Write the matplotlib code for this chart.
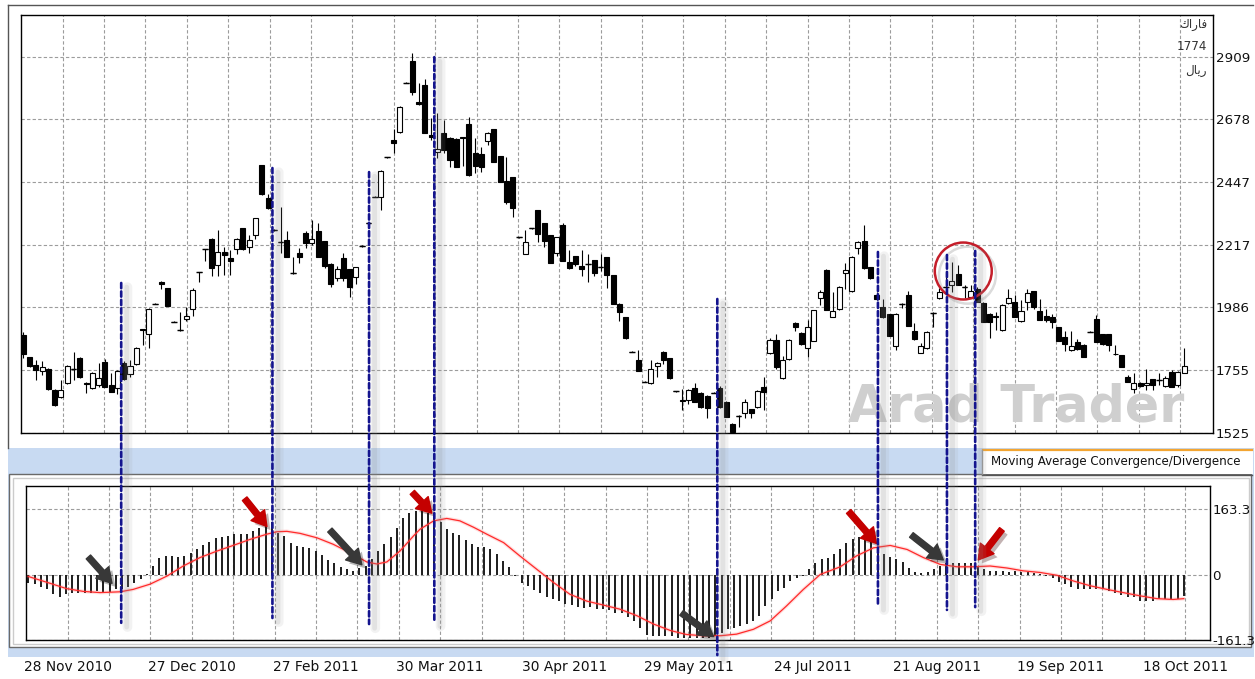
import numpy as np
import matplotlib
matplotlib.use("Agg")
import matplotlib.pyplot as plt
import matplotlib.patheffects as pe
from matplotlib.patches import ConnectionPatch, Rectangle
from matplotlib.lines import Line2D
from matplotlib.transforms import blended_transform_factory

# --- Daily candles, Rial ---
opens = [1884, 1802, 1774, 1753, 1759, 1682, 1658, 1709, 1760, 1801,
         1709, 1688, 1701, 1786, 1701, 1688, 1783, 1740, 1777, 1907,
         1887, 1999, 2081, 2056, 1934, 1903, 1942, 1981, 2115, 2200,
         2237, 2142, 2189, 2167, 2201, 2277, 2210, 2252, 2509, 2387,
         2271, 2228, 2234, 2111, 2185, 2259, 2224, 2268, 2230, 2146,
         2093, 2167, 2126, 2097, 2212, 2298, 2393, 2393, 2539, 2602,
         2631, 2813, 2891, 2743, 2804, 2620, 2559, 2627, 2610, 2607,
         2612, 2660, 2555, 2549, 2599, 2641, 2543, 2452, 2465, 2244,
         2183, 2277, 2344, 2295, 2252, 2187, 2289, 2154, 2175, 2138,
         2146, 2160, 2136, 2170, 2105, 1999, 1950, 1823, 1793, 1713,
         1707, 1772, 1823, 1799, 1678, 1645, 1645, 1691, 1672, 1660,
         1672, 1688, 1639, 1558, 1588, 1596, 1612, 1619, 1694, 1819,
         1866, 1725, 1795, 1930, 1891, 1836, 1864, 2020, 2124, 1952,
         1979, 2114, 2046, 2203, 2230, 2134, 2032, 1989, 1961, 1844,
         1999, 2032, 1900, 1820, 1836, 1967, 2020, 2060, 2069, 2108,
         2060, 2023, 2053, 2003, 1962, 1955, 1903, 2003, 2007, 1936,
         2007, 2046, 1974, 1955, 1952, 1913, 1878, 1829, 1860, 1848,
         1897, 1943, 1888, 1888, 1816, 1810, 1731, 1685, 1709, 1699,
         1721, 1718, 1697, 1749, 1700, 1746]
highs = [1897, 1805, 1793, 1790, 1762, 1684, 1719, 1773, 1823, 1803,
         1710, 1750, 1781, 1798, 1746, 1757, 1787, 1793, 1840, 1908,
         1983, 2002, 2083, 2058, 1936, 1970, 1986, 2058, 2117, 2202,
         2240, 2271, 2210, 2197, 2242, 2280, 2251, 2316, 2511, 2402,
         2273, 2357, 2268, 2173, 2203, 2266, 2308, 2298, 2232, 2148,
         2140, 2185, 2128, 2136, 2214, 2300, 2395, 2490, 2541, 2641,
         2727, 2815, 2923, 2813, 2827, 2682, 2702, 2675, 2612, 2609,
         2613, 2685, 2608, 2577, 2631, 2644, 2545, 2541, 2467, 2246,
         2270, 2279, 2346, 2297, 2254, 2246, 2296, 2197, 2177, 2197,
         2183, 2162, 2183, 2172, 2107, 2001, 1952, 1825, 1829, 1715,
         1793, 1786, 1825, 1801, 1680, 1685, 1685, 1708, 1674, 1662,
         1674, 1697, 1641, 1560, 1590, 1648, 1614, 1682, 1731, 1872,
         1887, 1806, 1870, 1932, 1895, 1940, 1978, 2050, 2126, 2044,
         2064, 2149, 2175, 2230, 2289, 2136, 2044, 2018, 1963, 1964,
         2001, 2047, 1930, 1856, 1899, 1969, 2058, 2117, 2154, 2142,
         2069, 2069, 2062, 2005, 1964, 1969, 1997, 2055, 2032, 2013,
         2055, 2048, 2017, 1981, 1962, 1915, 1900, 1900, 1871, 1850,
         1899, 1958, 1890, 1890, 1849, 1812, 1737, 1744, 1711, 1758,
         1723, 1744, 1733, 1756, 1751, 1836]
lows = [1799, 1768, 1719, 1737, 1683, 1622, 1653, 1706, 1719, 1728,
        1672, 1686, 1694, 1692, 1675, 1668, 1720, 1729, 1775, 1848,
        1836, 1997, 2053, 1990, 1932, 1901, 1937, 1955, 2078, 2158,
        2102, 2102, 2105, 2105, 2183, 2198, 2188, 2238, 2401, 2347,
        2269, 2185, 2170, 2109, 2148, 2204, 2216, 2171, 2130, 2061,
        2085, 2082, 2025, 2072, 2210, 2296, 2391, 2344, 2537, 2553,
        2629, 2811, 2766, 2731, 2627, 2602, 2535, 2555, 2501, 2502,
        2506, 2471, 2479, 2483, 2584, 2520, 2447, 2366, 2318, 2242,
        2181, 2275, 2228, 2209, 2148, 2177, 2156, 2126, 2139, 2103,
        2081, 2103, 2121, 2059, 1997, 1935, 1870, 1821, 1751, 1711,
        1705, 1731, 1777, 1723, 1676, 1608, 1632, 1637, 1616, 1578,
        1670, 1616, 1582, 1518, 1547, 1578, 1578, 1617, 1609, 1813,
        1760, 1723, 1793, 1900, 1848, 1805, 1862, 1995, 1975, 1950,
        1977, 2055, 2044, 2183, 2128, 2091, 2014, 1948, 1879, 1831,
        1985, 1916, 1867, 1818, 1834, 1915, 2018, 2044, 2044, 2067,
        2022, 2021, 2005, 1931, 1872, 1903, 1901, 2000, 1950, 1934,
        1977, 1981, 1938, 1933, 1911, 1862, 1826, 1826, 1830, 1803,
        1895, 1858, 1849, 1826, 1812, 1766, 1711, 1672, 1693, 1683,
        1683, 1700, 1694, 1692, 1694, 1744]
closes = [1815, 1770, 1756, 1768, 1685, 1627, 1682, 1770, 1760, 1731,
          1705, 1746, 1727, 1694, 1676, 1752, 1724, 1772, 1838, 1904,
          1980, 1999, 2072, 1992, 1934, 1903, 1954, 2050, 2115, 2200,
          2132, 2189, 2179, 2157, 2239, 2201, 2234, 2314, 2403, 2353,
          2271, 2228, 2173, 2111, 2173, 2222, 2237, 2173, 2138, 2072,
          2126, 2093, 2062, 2134, 2212, 2298, 2393, 2488, 2539, 2590,
          2724, 2813, 2777, 2733, 2629, 2612, 2570, 2565, 2528, 2504,
          2608, 2473, 2506, 2504, 2629, 2522, 2449, 2375, 2351, 2244,
          2226, 2277, 2256, 2231, 2150, 2244, 2158, 2130, 2146, 2128,
          2146, 2111, 2136, 2105, 1999, 1968, 1872, 1823, 1753, 1713,
          1758, 1781, 1793, 1725, 1678, 1643, 1683, 1639, 1618, 1615,
          1672, 1618, 1584, 1527, 1588, 1639, 1596, 1680, 1676, 1866,
          1768, 1793, 1866, 1913, 1850, 1913, 1976, 2044, 1977, 1973,
          2062, 2124, 2173, 2228, 2130, 2093, 2016, 1950, 1881, 1962,
          1999, 1918, 1869, 1844, 1897, 1967, 2044, 2060, 2083, 2069,
          2060, 2046, 2007, 1933, 1933, 1950, 1995, 2019, 1952, 1974,
          2040, 1989, 1940, 1940, 1933, 1864, 1851, 1844, 1832, 1805,
          1897, 1860, 1851, 1848, 1814, 1768, 1713, 1709, 1697, 1709,
          1700, 1718, 1725, 1694, 1749, 1771]

# --- MACD histogram and its signal line ---
macd_hist = [-18, -22, -28, -35, -47, -53, -47, -45, -43, -45,
             -45, -39, -43, -41, -35, -35, -28, -18, -10, 2,
             23, 42, 48, 48, 46, 48, 55, 64, 74, 83,
             92, 95, 98, 102, 102, 103, 110, 118, 126, 131,
             106, 98, 81, 73, 71, 67, 60, 50, 38, 30,
             21, 15, 11, 17, 23, 41, 60, 77, 95, 118,
             143, 155, 159, 159, 155, 147, 131, 116, 104, 100,
             87, 77, 70, 71, 64, 52, 36, 21, -2, -18,
             -26, -36, -45, -55, -60, -64, -72, -74, -78, -80,
             -78, -83, -83, -86, -93, -94, -103, -113, -130, -148,
             -150, -150, -150, -150, -155, -155, -155, -155, -155, -155,
             -150, -142, -134, -130, -126, -122, -113, -101, -76, -60,
             -39, -31, -14, -6, -2, 15, 31, 40, 44, 52,
             64, 79, 91, 95, 93, 89, 71, 52, 46, 41,
             33, 19, 8, 5, 8, 15, 23, 30, 30, 30,
             31, 30, 23, 15, 11, 11, 11, 8, 11, 8,
             8, 5, 2, -1, -6, -17, -22, -28, -33, -35,
             -33, -35, -35, -39, -43, -50, -55, -55, -64, -64,
             -64, -60, -60, -60, -58, -51]
signal_pos = [0, 3.5, 6.1, 8.8, 11.5, 14.7, 16.8, 19.5, 22.2, 24.8,
              27.5, 30.2, 32.8, 35.5, 38.2, 39.8, 41.4, 43.5, 46.2, 48.8,
              51.5, 54.2, 55.8, 57.4, 59.5, 61.7, 62.7, 64.9, 67.0, 69.1,
              71.3, 73.4, 76.1, 78.7, 81.4, 84.1, 86.7, 89.4, 92.1, 94.7,
              97.4, 100.1, 102.8, 105.4, 108.1, 110.8, 113.4, 116.1, 118.8, 121.4,
              124.1, 126.8, 130.0, 132.6, 135.3, 138.0, 140.7, 143.3, 146.0, 148.7,
              151.3, 154.0, 156.7, 159.3, 162.0, 164.7, 167.3, 170.0, 172.7, 175.3,
              178.0, 180.7, 183.3, 185.0]
signal_val = [-3, -20, -33, -40, -43, -41, -35, -22, -2, 23,
              44, 60, 74, 89, 102, 108, 109, 104, 93, 77,
              56, 33, 28, 33, 60, 98, 114, 135, 141, 135,
              119, 102, 81, 48, 15, -18, -47, -64, -74, -84,
              -100, -121, -137, -147, -150, -150, -146, -134, -113, -76,
              -35, 2, 21, 48, 68, 74, 64, 44, 27, 21,
              21, 23, 18, 11, 7, 0, -14, -26, -35, -43,
              -51, -58, -60, -58]

price_ticks = [1525, 1755.67, 1986.33, 2217, 2447.67, 2678.33, 2909]
price_labels = ["1525", "1755", "1986", "2217", "2447", "2678", "2909"]
macd_ticks = [163.3, 0, -161.3]
macd_labels = ["163.3", "0", "-161.3"]
date_labels = ["28 Nov 2010", "27 Dec 2010", "27 Feb 2011", "30 Mar 2011",
               "30 Apr 2011", "29 May 2011", "24 Jul 2011", "21 Aug 2011",
               "19 Sep 2011", "18 Oct 2011"]

# turning points: bar, price where the marker starts, MACD value where it ends
turn_pos = [15.6, 39.7, 55.1, 65.5, 110.6, 136.2, 147.2, 151.7]
turn_top = [2076, 2499, 2484, 2907, 2017, 2190, 2179, 2194]
turn_bottom = [-118, -106, -121, -116, -198, -76, -86, -79]

# arrows pointing at the signal line: tip (bar, value), tail offset in points
arrow_pos = [13.4, 38.2, 53.4, 64.6, 109.7, 135.8, 146.5, 152.1]
arrow_val = [-20, 121, 26, 154, -152, 79, 38, 38]
arrow_dx = [-17, -16, -23, -14, -23, -20, -23, 17]
arrow_dy = [19, 20, 25, 15, 17, 23, 18, 22]
arrow_colors = ["#383838", "#c40000", "#383838", "#c40000",
                "#383838", "#c40000", "#383838", "#c40000"]

W, H = 1255, 679


def fig_box(x0, y0, x1, y1):
    return [x0 / W, 1 - y1 / H, (x1 - x0) / W, (y1 - y0) / H]


fig = plt.figure(figsize=(W / 100, H / 100), dpi=100)
fig.patch.set_facecolor("white")

# --- window chrome round the two panes ---
deco = [
    Rectangle((8 / W, 1 - 657 / H), 1246 / W, 209 / H, facecolor="#c8daf2", edgecolor="none"),
    Rectangle((9 / W, 1 - 647 / H), 1242 / W, 173 / H, facecolor="white", edgecolor="#6a6a6a", lw=1),
    Rectangle((12.5 / W, 1 - 644 / H), 1236 / W, 166.5 / H, facecolor="none", edgecolor="#cccccc", lw=1),
    Rectangle((982 / W, 1 - 474 / H), 271 / W, 25 / H, facecolor="white", edgecolor="none"),
]
for r in deco:
    r.set_transform(fig.transFigure)
    r.set_zorder(-5)
    fig.add_artist(r)
for xs, ys, col, lw in [([8, 1253], [5, 5], "#555555", 1.0),
                        ([8, 8], [5, 448], "#555555", 1.0),
                        ([983, 1252], [449.5, 449.5], "#f3a531", 1.6),
                        ([982, 982], [450, 474], "#9a9a9a", 1.0),
                        ([982, 1252], [475, 475], "#555555", 1.0)]:
    fig.add_artist(Line2D([x / W for x in xs], [1 - y / H for y in ys],
                          transform=fig.transFigure, color=col, lw=lw, zorder=-4))
fig.text(991 / W, 1 - 461.5 / H, "Moving Average Convergence/Divergence",
         fontsize=8.6, va="center", ha="left", color="#111111")

grid_kw = dict(color="#9c9c9c", linestyle=(0, (3, 2)), lw=0.8)

# --- price pane ---
ax1 = fig.add_axes(fig_box(21, 15, 1213, 432.7))
idx = np.arange(len(opens))
o, h, l, c = (np.array(v, dtype=float) for v in (opens, highs, lows, closes))
ax1.vlines(idx, l, h, color="black", lw=0.8, zorder=2)
body_col = ["white" if cc > oo else "black" for oo, cc in zip(o, c)]
ax1.bar(idx, np.abs(c - o), bottom=np.minimum(o, c), width=0.8, color=body_col,
        edgecolor="black", linewidth=0.8, zorder=3)
flat = o == c
ax1.hlines(o[flat], idx[flat] - 0.45, idx[flat] + 0.45, color="black", lw=1.0, zorder=3)

ax1.set_xlim(-0.37, 189.6)
ax1.set_ylim(1525, 3062)
ax1.set_xticks(6.28 + 6.595 * np.arange(28))
ax1.set_xticklabels([])
ax1.set_yticks(price_ticks)
ax1.set_yticklabels(price_labels)
ax1.yaxis.tick_right()
ax1.tick_params(length=0, labelsize=9.6, pad=2, colors="#111111")
ax1.grid(True, **grid_kw)
ax1.set_axisbelow(True)
for s in ax1.spines.values():
    s.set_color("black")
    s.set_linewidth(1.0)

ax1.text(0.694, 0.026, "Arad Trader", transform=ax1.transAxes, fontsize=36.5,
         fontweight="bold", color="#cfcfcf", ha="left", va="baseline", zorder=1)
# symbol, last price and currency
for txt, yy in [("\ufed9\ufe8d\ufead\ufe8e\ufed3", 0.978), ("1774", 0.925), ("\ufedd\ufe8e\ufef3\ufead", 0.868)]:
    ax1.text(0.995, yy, txt, transform=ax1.transAxes, fontsize=8.6, ha="right",
             va="center", color="#333333", family=["DejaVu Sans", "Noto Sans"])

ax1.plot([149.8], [2120], marker="o", ms=41, mfc="none", mec="#c41e2a", mew=1.8,
         clip_on=False, zorder=8,
         path_effects=[pe.SimpleLineShadow(offset=(3, -3), shadow_color="#888888", alpha=0.3),
                       pe.Normal()])

# --- MACD pane ---
ax2 = fig.add_axes(fig_box(26, 485.7, 1210, 640.3))
ax2.vlines(np.arange(len(macd_hist)), 0, macd_hist, color="#1c1c1c", lw=1.4, zorder=2)
ax2.plot(signal_pos, signal_val, color="#ff6a6a", lw=2.6, alpha=0.22, zorder=3,
         solid_capstyle="round")
ax2.plot(signal_pos, signal_val, color="#ff2a2a", lw=0.9, zorder=3)

low_grid = 6.31 + 6.626 * np.arange(28)
ax2.set_xlim(-0.37, 189.2)
ax2.set_ylim(-161.3, 222.2)
ax2.set_xticks(low_grid)
ax2.set_xticklabels([date_labels[k // 3] if k % 3 == 0 else "" for k in range(28)])
ax2.set_yticks(macd_ticks)
ax2.set_yticklabels(macd_labels)
ax2.yaxis.tick_right()
ax2.tick_params(axis="y", length=0, labelsize=9.6, pad=1.5, colors="#111111")
ax2.tick_params(axis="x", length=0, labelsize=9.9, pad=14, colors="#111111")
ax2.grid(True, **grid_kw)
ax2.set_axisbelow(True)
for s in ax2.spines.values():
    s.set_color("black")
    s.set_linewidth(1.0)

for pos, val, dx, dy, col in zip(arrow_pos, arrow_val, arrow_dx, arrow_dy, arrow_colors):
    ax2.annotate("", xy=(pos, val), xytext=(dx, dy), textcoords="offset points",
                 annotation_clip=False, zorder=9,
                 arrowprops=dict(arrowstyle="simple,head_length=1.05,head_width=1.25,tail_width=0.42",
                                 mutation_scale=10, color=col, shrinkA=0, shrinkB=0,
                                 path_effects=[pe.SimplePatchShadow(offset=(2.5, -2.5), alpha=0.3),
                                               pe.Normal()]))

# dashed markers running from the candle down into the MACD pane
solid = {"dash_offset": 0, "dash_list": None}
to_macd = blended_transform_factory(ax1.transData, ax2.transData)
for pos, top, bottom in zip(turn_pos, turn_top, turn_bottom):
    line = ConnectionPatch(xyA=(pos, top), coordsA=ax1.transData,
                           xyB=(pos, bottom), coordsB=to_macd,
                           color="#14148e", lw=1.9, linestyle=(0, (2.0, 1.2)), zorder=10)
    line.set_path_effects([
        pe.SimpleLineShadow(offset=(4.5, -3), shadow_color="#9a9a9a", alpha=0.12,
                            linewidth=7, dashes=solid),
        pe.SimpleLineShadow(offset=(4, -3), shadow_color="#8a8a8a", alpha=0.15,
                            linewidth=3.5, dashes=solid),
        pe.Normal()])
    fig.add_artist(line)

fig.savefig("out.png", dpi=100)
